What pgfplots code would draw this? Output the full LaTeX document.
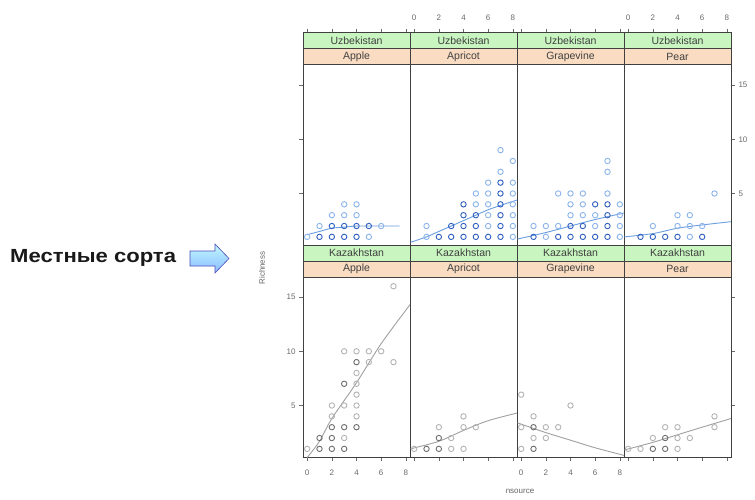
\documentclass[border=0pt]{standalone}
\usepackage{fontspec}
\setmainfont{Liberation Sans}
\usepackage{pgfplots}
\pgfplotsset{compat=1.18}
\definecolor{stripgreen}{HTML}{C8F5C0}
\definecolor{striporange}{HTML}{FADCC2}
\definecolor{frame}{HTML}{404040}
\definecolor{tickc}{HTML}{6A6A6A}
\definecolor{ptdark}{HTML}{2F5FBF}
\definecolor{ptlight}{HTML}{8CB4EC}
\definecolor{gdark}{HTML}{6E6E6E}
\definecolor{glight}{HTML}{B4B4B4}
\definecolor{blueline}{HTML}{6A9EE0}
\definecolor{grayline}{HTML}{A0A0A0}
\pgfplotsset{
 base/.style={scale only axis, width=107pt, xmin=-0.34, xmax=8.34,
   axis line style={draw=frame, line width=1pt},
   tick style={draw=tickc, line width=0.5pt}, tick align=outside, major tick length=4pt,
   ticklabel style={font=\fontsize{8}{9}\selectfont, text=tickc},
   /pgf/number format/assume math mode=true},
 panel/.style={base, height=180pt, ymin=0.25, ymax=16.85, xtick=\empty, ytick=\empty},
 strip/.style={base, height=32pt, ymin=0, ymax=2, ytick=\empty, xtick=\empty, axis on top},
 dk/.style={only marks, mark=o, mark size=2.7pt, mark options={line width=0.9pt}},
 bl/.style={no marks, smooth, line width=0.9pt, color=blueline},
 gl/.style={no marks, smooth, line width=0.9pt, color=grayline},
 topx/.style={xtick={0,2,4,6,8}, xtick pos=right, xticklabel pos=right, xticklabel style={yshift=5pt}},
 botx/.style={xtick={0,2,4,6,8}, xtick pos=left, xticklabel pos=left, xticklabel style={yshift=-5pt}},
}
\newcommand\strips[2]{%
 \fill[stripgreen] (rel axis cs:0,0.5) rectangle (rel axis cs:1,1);
 \fill[striporange] (rel axis cs:0,0) rectangle (rel axis cs:1,0.5);
 \draw[frame, line width=1pt] (rel axis cs:0,0.5) -- (rel axis cs:1,0.5);
 \node[font=\fontsize{10.5}{11}\selectfont, text=black!75] at (rel axis cs:0.5,0.75) {#1};
 \node[font=\fontsize{10.5}{11}\selectfont, text=black!75] at (rel axis cs:0.5,0.25) {#2};
}
\begin{document}
\begin{tikzpicture}
\path[use as bounding box] (0pt,0pt) rectangle (755pt,499pt);
\fill[white] (0pt,0pt) rectangle (755pt,499pt);

% ---------------- left annotation ----------------
\node[font=\bfseries\fontsize{19}{20}\selectfont, text=black!90, anchor=west, inner sep=0pt] at (10pt,241pt) {\scalebox{1.16}[1]{Местные сорта}};
\shade[top color=blue!10!cyan!25, bottom color=blue!60!cyan!45, draw=blue!60!black!70, line width=0.6pt]
  (190pt,248pt) -- (215pt,248pt) -- (215pt,255pt) -- (229pt,240.5pt) -- (215pt,226pt) -- (215pt,233pt) -- (190pt,233pt) -- cycle;

% ---------------- strips ----------------
\begin{axis}[strip, at={(303pt,434pt)}, anchor=south west, topx, xticklabels={}]
\strips{Uzbekistan}{Apple}
\end{axis}
\begin{axis}[strip, at={(410pt,434pt)}, anchor=south west, topx]
\strips{Uzbekistan}{Apricot}
\end{axis}
\begin{axis}[strip, at={(517pt,434pt)}, anchor=south west, topx, xticklabels={}]
\strips{Uzbekistan}{Grapevine}
\end{axis}
\begin{axis}[strip, at={(624pt,434pt)}, anchor=south west, topx]
\strips{Uzbekistan}{Pear}
\end{axis}
\begin{axis}[strip, at={(303pt,222pt)}, anchor=south west]
\strips{Kazakhstan}{Apple}
\end{axis}
\begin{axis}[strip, at={(410pt,222pt)}, anchor=south west]
\strips{Kazakhstan}{Apricot}
\end{axis}
\begin{axis}[strip, at={(517pt,222pt)}, anchor=south west]
\strips{Kazakhstan}{Grapevine}
\end{axis}
\begin{axis}[strip, at={(624pt,222pt)}, anchor=south west]
\strips{Kazakhstan}{Pear}
\end{axis}

% ---------------- top row: Uzbekistan ----------------
\begin{axis}[panel, at={(303pt,254pt)}, anchor=south west, ytick={5,10,15}, ytick pos=left, yticklabels={}]
\addplot[dk, color=ptlight] coordinates {(0,1)(5,1)(1,2)(6,2)(2,3)(3,3)(4,3)(3,4)(4,4)};
\addplot[dk, color=ptdark] coordinates {(1,1)(2,1)(3,1)(4,1)(2,2)(3,2)(4,2)(5,2)};
\addplot[bl] coordinates {(0,1.2)(1,1.5)(2,1.8)(3,1.9)(4,2.0)(5,2.0)(6,2.0)(7.5,2.0)};
\end{axis}
\begin{axis}[panel, at={(410pt,254pt)}, anchor=south west]
\addplot[dk, color=ptlight] coordinates {(1,1)(8,1)(1,2)(6,2)(8,2)(6,3)(8,3)(5,4)(6,4)(8,4)(5,5)(6,5)(8,5)(6,6)(8,6)(7,7)(8,8)(7,9)};
\addplot[dk, color=ptdark] coordinates {(2,1)(3,1)(4,1)(5,1)(6,1)(7,1)(3,2)(4,2)(5,2)(7,2)(4,3)(5,3)(7,3)(4,4)(7,4)(7,5)(7,6)};
\addplot[bl] coordinates {(-0.3,0.5)(1,1.0)(2,1.5)(3,2.0)(4,2.5)(5,3.0)(6,3.5)(7,3.9)(8.34,4.4)};
\end{axis}
\begin{axis}[panel, at={(517pt,254pt)}, anchor=south west]
\addplot[dk, color=ptlight] coordinates {(2,1)(8,1)(1,2)(2,2)(3,2)(6,2)(8,2)(4,3)(5,3)(6,3)(8,3)(4,4)(5,4)(8,4)(3,5)(4,5)(5,5)(7,5)(7,7)(7,8)};
\addplot[dk, color=ptdark] coordinates {(1,1)(3,1)(4,1)(5,1)(6,1)(7,1)(4,2)(5,2)(7,2)(7,3)(6,4)(7,4)};
\addplot[bl] coordinates {(-0.3,0.8)(2,1.4)(4,2.0)(6,2.6)(8.34,3.2)};
\end{axis}
\begin{axis}[panel, at={(624pt,254pt)}, anchor=south west, ytick={5,10,15}, ytick pos=right, yticklabel pos=right]
\addplot[dk, color=ptlight] coordinates {(5,1)(2,2)(4,2)(5,2)(6,2)(4,3)(5,3)(7,5)};
\addplot[dk, color=ptdark] coordinates {(1,1)(2,1)(3,1)(4,1)(6,1)};
\addplot[bl] coordinates {(-0.3,1.0)(2,1.3)(4,1.8)(6,2.1)(8.34,2.4)};
\end{axis}

% ---------------- bottom row: Kazakhstan ----------------
\begin{axis}[panel, at={(303pt,42pt)}, anchor=south west, botx, ytick={5,10,15}, ytick pos=left]
\addplot[dk, color=glight] coordinates {(0,1)(3,2)(2,4)(4,4)(2,5)(3,5)(4,5)(4,6)(4,7)(4,8)(7,9)(5,9)(3,10)(4,10)(5,10)(6,10)(7,16)};
\addplot[dk, color=gdark] coordinates {(1,1)(2,1)(3,1)(1,2)(2,2)(2,3)(3,3)(4,3)(3,7)(4,9)};
\addplot[gl] coordinates {(0,0.2)(1,1.7)(2,3.8)(4,7.1)(6,10.7)(8.34,14.3)};
\end{axis}
\begin{axis}[panel, at={(410pt,42pt)}, anchor=south west, botx, xticklabels={}]
\addplot[dk, color=glight] coordinates {(0,1)(3,1)(4,1)(3,2)(2,3)(4,3)(5,3)(4,4)};
\addplot[dk, color=gdark] coordinates {(1,1)(2,1)(2,2)};
\addplot[gl] coordinates {(-0.3,1.0)(2,1.7)(4,2.7)(6,3.6)(8.34,4.3)};
\end{axis}
\begin{axis}[panel, at={(517pt,42pt)}, anchor=south west, botx]
\addplot[dk, color=glight] coordinates {(0,1)(1,2)(2,2)(0,3)(2,3)(3,3)(1,4)(4,5)(0,6)};
\addplot[dk, color=gdark] coordinates {(1,1)(1,3)};
\addplot[gl] coordinates {(-0.3,3.4)(2,2.5)(4,1.8)(6,1.1)(8.34,0.4)};
\end{axis}
\begin{axis}[panel, at={(624pt,42pt)}, anchor=south west, botx, xticklabels={}, ytick={5,10,15}, ytick pos=right, yticklabels={}]
\addplot[dk, color=glight] coordinates {(0,1)(1,1)(4,1)(2,2)(4,2)(5,2)(3,3)(4,3)(7,3)(7,4)};
\addplot[dk, color=gdark] coordinates {(2,1)(3,1)(3,2)};
\addplot[gl] coordinates {(-0.3,0.9)(2,1.6)(4,2.3)(6,3.0)(8.34,3.8)};
\end{axis}

% ---------------- axis titles ----------------
\node[rotate=90, font=\fontsize{8}{9}\selectfont, text=black!60] at (262pt,231pt) {Richness};
\node[font=\fontsize{8}{9}\selectfont, text=black!60] at (520pt,8pt) {nsource};
\end{tikzpicture}
\end{document}
